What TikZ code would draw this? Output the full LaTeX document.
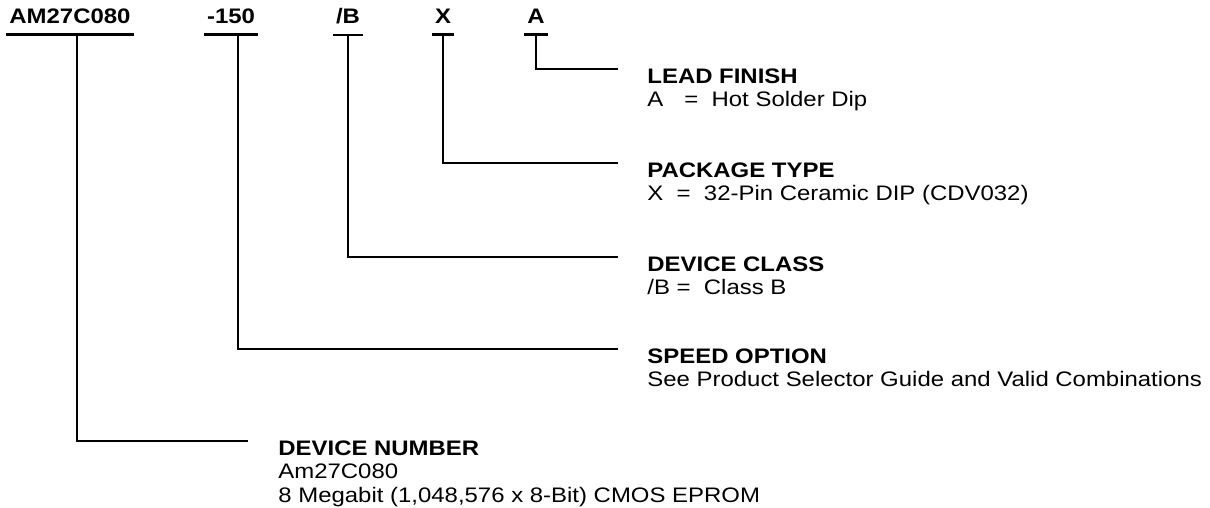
\documentclass[tikz,border=0pt]{standalone}
\usepackage{fontspec}
\setmainfont[FakeStretch=1.14]{Liberation Sans}
\usepackage{tikz}

\begin{document}
\begin{tikzpicture}[x=0.5pt,y=-0.5pt,
  code/.style={font=\fontsize{10.5}{11.75}\selectfont\bfseries,inner xsep=1.5pt,inner ysep=5pt,anchor=base},
  desc/.style={font=\fontsize{10.5}{11.75}\selectfont,align=left,inner sep=0pt,anchor=north west},
  leader/.style={line width=1.2pt}]
\useasboundingbox (0,0) rectangle (1210,508);
% ordering code fields
\node[code] (am) at (70,24) {AM27C080};
\node[code] (sp) at (231,24) {-150};
\node[code] (cl) at (348,24) {/B};
\node[code] (pk) at (443,24) {X};
\node[code] (lf) at (536,24) {A};
\foreach \n in {am,sp,cl,pk,lf}
{ \draw[leader] (\n.south west)--(\n.south east);
}
% descriptions
\node[desc] (lead) at (647,68) {\textbf{LEAD FINISH}\\A\quad=\ \ Hot Solder Dip};
\node[desc] (pack) at (647,162) {\textbf{PACKAGE TYPE}\\X \ =\ \ 32-Pin Ceramic DIP (CDV032)};
\node[desc] (dcls) at (647,256) {\textbf{DEVICE CLASS}\\/B = \ Class B};
\node[desc] (spd) at (647,348) {\textbf{SPEED OPTION}\\See Product Selector Guide and Valid Combinations};
\node[desc] (dnum) at (278,440) {\textbf{DEVICE NUMBER}\\Am27C080\\8 Megabit (1,048,576 x 8-Bit) CMOS EPROM};
% leaders
\draw[leader] (lf.south) |- ([xshift=-14.5pt,yshift=-0.5pt]lead.north west);
\draw[leader] (pk.south) |- ([xshift=-14.5pt,yshift=-0.5pt]pack.north west);
\draw[leader] (cl.south) |- ([xshift=-14.5pt,yshift=-0.5pt]dcls.north west);
\draw[leader] ([xshift=3.5pt]sp.south) |- ([xshift=-14.5pt,yshift=-0.5pt]spd.north west);
\draw[leader] ([xshift=3.5pt]am.south) |- ([xshift=-15pt,yshift=-0.5pt]dnum.north west);
\end{tikzpicture}
\end{document}
